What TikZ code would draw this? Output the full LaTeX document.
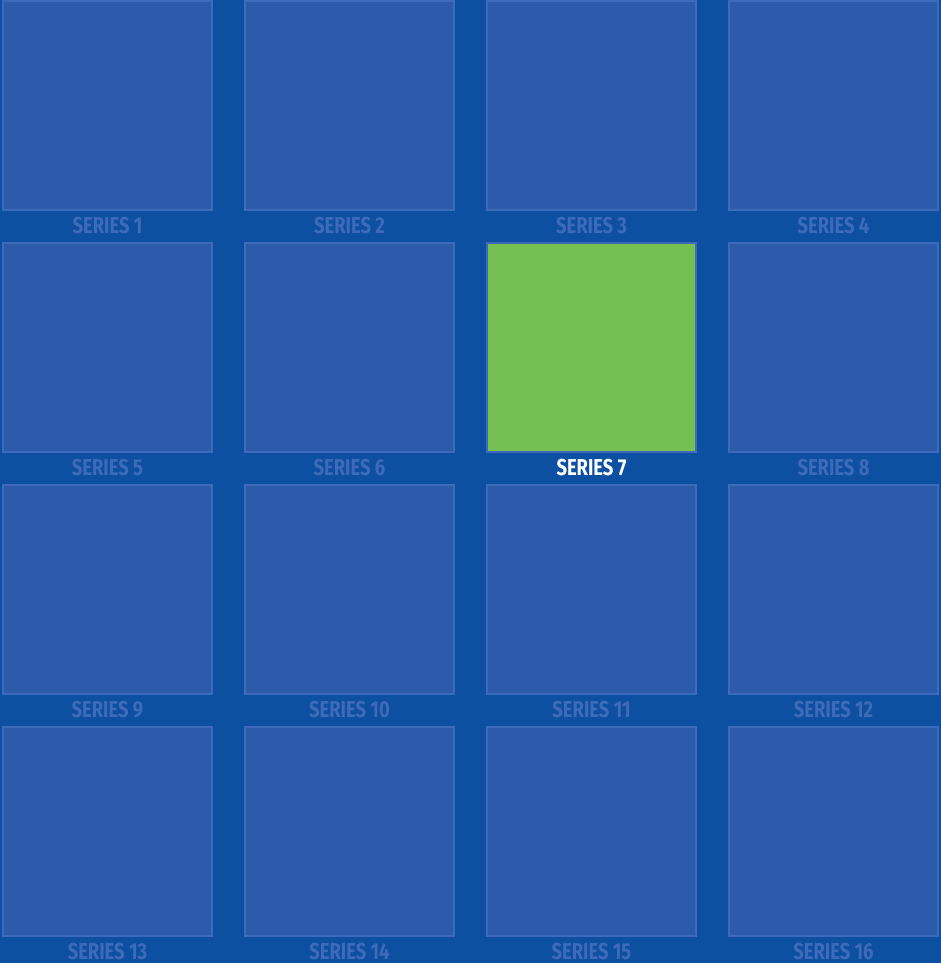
\documentclass[tikz,border=0pt]{standalone}
\usepackage{fontspec}
\usepackage{xcolor}
\usepackage{tikz}
\usetikzlibrary{positioning}
\newfontfamily\serfont[FakeStretch=0.8]{Fira Sans Bold}
\definecolor{gridbg}{RGB}{13,79,161}
\definecolor{tilefill}{RGB}{43,91,170}
\definecolor{tileline}{RGB}{62,106,187}
\definecolor{lbltext}{RGB}{62,106,186}
\definecolor{pickgreen}{RGB}{116,193,82}
\tikzset{
  tile/.style={draw=tileline, fill=tilefill, line width=2pt, minimum size=209pt,
               inner sep=0pt},
  picktile/.style={tile, fill=pickgreen},
  lbl/.style={font=\fontsize{23}{23}\selectfont\serfont, text=lbltext, inner sep=0pt},
  picklbl/.style={lbl, text=white}
}

\begin{document}
\begin{tikzpicture}[x=1pt,y=1pt]
    \fill[gridbg] (0,0) rectangle (941,963);
    \useasboundingbox (0,0) rectangle (941,963);
    % row 1
    \node[tile] (t1) at (107.5,857.5) {};
    \node[tile] (t2) at (349.5,857.5) {};
    \node[tile] (t3) at (591.5,857.5) {};
    \node[tile] (t4) at (833.5,857.5) {};
    % row 2
    \node[tile] (t5) at (107.5,615.5) {};
    \node[tile] (t6) at (349.5,615.5) {};
    \node[picktile] (t7) at (591.5,615.5) {};
    \node[tile] (t8) at (833.5,615.5) {};
    % row 3
    \node[tile] (t9) at (107.5,373.5) {};
    \node[tile] (t10) at (349.5,373.5) {};
    \node[tile] (t11) at (591.5,373.5) {};
    \node[tile] (t12) at (833.5,373.5) {};
    % row 4
    \node[tile] (t13) at (107.5,131.5) {};
    \node[tile] (t14) at (349.5,131.5) {};
    \node[tile] (t15) at (591.5,131.5) {};
    \node[tile] (t16) at (833.5,131.5) {};
    % labels
    \node[lbl] (s1) at ([yshift=-15pt]t1.south) {SERIES 1};
    \node[lbl] (s2) at ([yshift=-15pt]t2.south) {SERIES 2};
    \node[lbl] (s3) at ([yshift=-15pt]t3.south) {SERIES 3};
    \node[lbl] (s4) at ([yshift=-15pt]t4.south) {SERIES 4};
    \node[lbl] (s5) at ([yshift=-15pt]t5.south) {SERIES 5};
    \node[lbl] (s6) at ([yshift=-15pt]t6.south) {SERIES 6};
    \node[picklbl] (s7) at ([yshift=-15pt]t7.south) {SERIES 7};
    \node[lbl] (s8) at ([yshift=-15pt]t8.south) {SERIES 8};
    \node[lbl] (s9) at ([yshift=-15pt]t9.south) {SERIES 9};
    \node[lbl] (s10) at ([yshift=-15pt]t10.south) {SERIES 10};
    \node[lbl] (s11) at ([yshift=-15pt]t11.south) {SERIES 11};
    \node[lbl] (s12) at ([yshift=-15pt]t12.south) {SERIES 12};
    \node[lbl] (s13) at ([yshift=-15pt]t13.south) {SERIES 13};
    \node[lbl] (s14) at ([yshift=-15pt]t14.south) {SERIES 14};
    \node[lbl] (s15) at ([yshift=-15pt]t15.south) {SERIES 15};
    \node[lbl] (s16) at ([yshift=-15pt]t16.south) {SERIES 16};
  \end{tikzpicture}
\end{document}
